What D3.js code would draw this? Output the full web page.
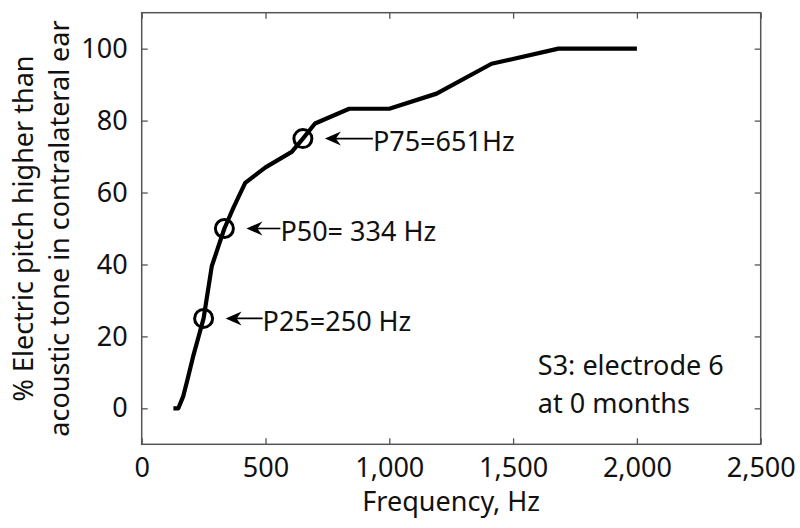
<!DOCTYPE html>
<html>
<head>
<meta charset="utf-8">
<script src="https://cdn.jsdelivr.net/npm/d3@7"></script>
<style>
  body { margin: 0; background: #fff; }
  svg text { font-family: "Noto Sans", "Open Sans", sans-serif; fill: #111; }
</style>
</head>
<body>
<svg id="chart" width="800" height="528"></svg>
<script>
"use strict";

// Curve (Hz, % higher)
const freqs = [128, 148, 168, 185, 208, 228, 250, 283, 312, 334, 372, 418, 500, 606, 651, 700, 838, 1000, 1191, 1413, 1683, 2000];
const pct   = [0, 0, 3.4, 8, 14.5, 19.5, 25, 39.5, 45.5, 50, 56, 62.7, 67, 71.3, 75, 79.2, 83.3, 83.3, 87.5, 95.8, 100, 100];

const marks = [
    { label: "P25=250 Hz", freq: 250, pct: 25, arrow: 37 },
    { label: "P50= 334 Hz", freq: 334, pct: 50, arrow: 34 },
    { label: "P75=651Hz", freq: 651, pct: 75, arrow: 48 }
];

const xTicks = [0, 500, 1000, 1500, 2000, 2500];
const yTicks = [0, 20, 40, 60, 80, 100];
const note = ["S3: electrode 6", "at 0 months"];

const width = 800, height = 528;
const margin = { top: 12.7, right: 39.3, bottom: 83.7, left: 141.7 };
const iw = width - margin.left - margin.right;
const ih = height - margin.top - margin.bottom;

const svg = d3.select("#chart");
const g = svg.append("g").attr("transform", `translate(${margin.left},${margin.top})`);

const x = d3.scaleLinear().domain([0, 2500]).range([0, iw]);
const y = d3.scaleLinear().domain([-10, 110]).range([ih, 0]);

const axisColor = "#555";
const fmt = d3.format(",");

// inward ticks on all four sides, MATLAB style
function styleAxis(sel) {
    sel.select(".domain").remove();
    sel.selectAll(".tick line").attr("stroke", axisColor).attr("stroke-width", 1.3);
    sel.selectAll(".tick text").style("font-size", "27px").attr("fill", "#111");
}

g.append("g").attr("transform", `translate(0,${ih})`)
    .call(d3.axisBottom(x).tickValues(xTicks).tickFormat(fmt).tickSizeInner(-6).tickPadding(14))
    .call(styleAxis);
g.append("g")
    .call(d3.axisTop(x).tickValues(xTicks).tickFormat("").tickSizeInner(-6))
    .call(styleAxis);
g.append("g")
    .call(d3.axisLeft(y).tickValues(yTicks).tickSizeInner(-6).tickPadding(14))
    .call(styleAxis);
g.append("g").attr("transform", `translate(${iw},0)`)
    .call(d3.axisRight(y).tickValues(yTicks).tickFormat("").tickSizeInner(-6))
    .call(styleAxis);

g.append("rect")
    .attr("width", iw).attr("height", ih)
    .attr("fill", "none").attr("stroke", axisColor).attr("stroke-width", 1.5);

// curve
const line = d3.line().x((d, i) => x(freqs[i])).y(d => y(d));
g.append("path")
    .datum(pct)
    .attr("d", line)
    .attr("fill", "none")
    .attr("stroke", "#000")
    .attr("stroke-width", 4.2)
    .attr("stroke-linejoin", "round");

// percentile circles + arrows
const ann = g.selectAll(".ann").data(marks).enter().append("g").attr("class", "ann");
ann.append("circle")
    .attr("cx", d => x(d.freq)).attr("cy", d => y(d.pct))
    .attr("r", 9)
    .attr("fill", "none").attr("stroke", "#000").attr("stroke-width", 3);

ann.append("line")
    .attr("x1", d => x(d.freq) + 26).attr("x2", d => x(d.freq) + 22 + d.arrow)
    .attr("y1", d => y(d.pct)).attr("y2", d => y(d.pct))
    .attr("stroke", "#000").attr("stroke-width", 1.6);

ann.append("path")
    .attr("transform", d => `translate(${x(d.freq) + 22},${y(d.pct)})`)
    .attr("d", "M0,0 L16,-7 L11,0 L16,7 Z")
    .attr("fill", "#000");

ann.append("text")
    .attr("x", d => x(d.freq) + 22 + d.arrow)
    .attr("y", d => y(d.pct))
    .attr("dy", "0.46em")
    .style("font-size", "27px")
    .text(d => d.label);

// note
g.append("text")
    .attr("x", x(1600))
    .attr("y", y(9.3))
    .style("font-size", "27px")
    .selectAll("tspan").data(note).enter().append("tspan")
    .attr("x", x(1600))
    .attr("dy", (d, i) => i ? 38 : 0)
    .text(d => d);

// axis titles
svg.append("text")
    .attr("x", margin.left + iw / 2)
    .attr("y", 511)
    .attr("text-anchor", "middle")
    .style("font-size", "27px")
    .text("Frequency, Hz");

const yTitle = svg.append("text")
    .attr("transform", `translate(0,${margin.top + ih / 2}) rotate(-90)`)
    .attr("text-anchor", "middle")
    .style("font-size", "27px");
yTitle.append("tspan").attr("x", 0).attr("y", 33).text("% Electric pitch higher than");
yTitle.append("tspan").attr("x", 0).attr("y", 69).text("acoustic tone in contralateral ear");
</script>
</body>
</html>
